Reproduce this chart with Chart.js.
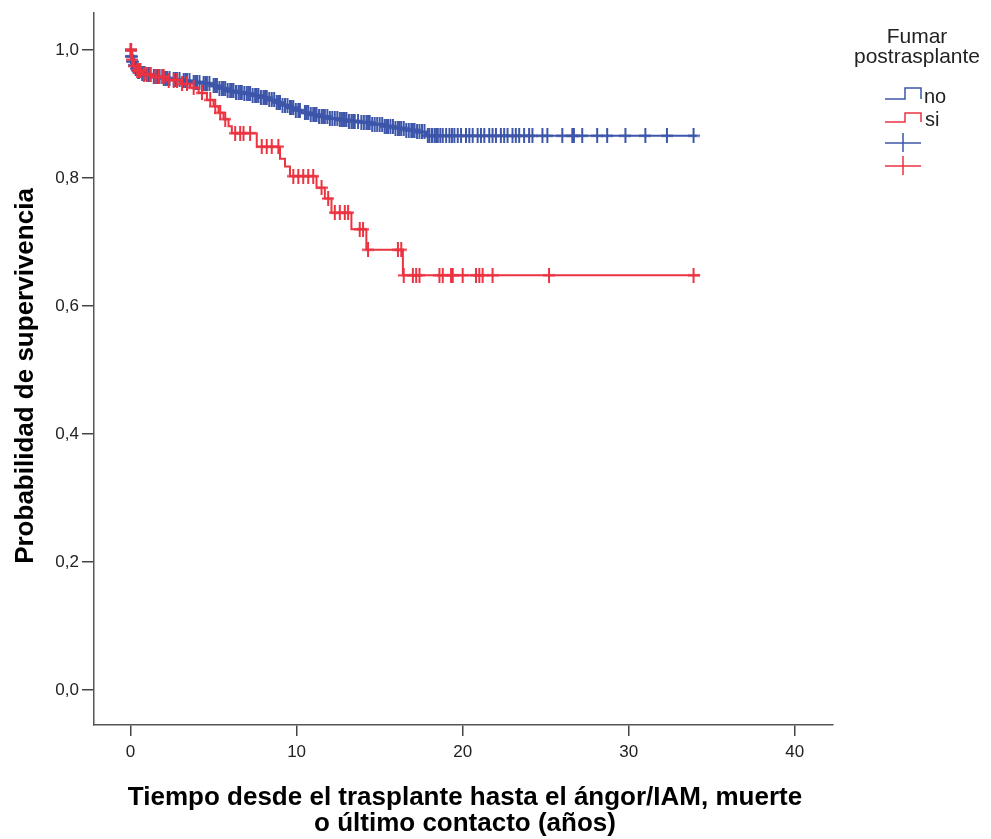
<!DOCTYPE html>
<html>
<head>
<meta charset="utf-8">
<script src="https://cdn.jsdelivr.net/npm/chart.js@4.4.1/dist/chart.umd.min.js"></script>
<style>
  html, body { margin: 0; padding: 0; background: #fff; }
  canvas { display: block; }
</style>
</head>
<body>
<canvas id="myChart" width="991" height="839" style="width:991px;height:839px"></canvas>
<script>
// data block: Kaplan-Meier steps (time in years, survival after the step)
const noTimes = [0, 0.03, 0.08, 0.15, 0.25, 0.4, 0.6, 0.9, 1.3, 1.8, 2.4, 3.0, 3.6, 4.2, 4.8, 5.3, 5.8, 6.3, 6.8, 7.3, 7.8, 8.3, 8.7, 9.1, 9.5, 9.9, 10.3, 10.8, 11.3, 11.9, 12.5, 13.1, 13.8, 14.5, 15.2, 15.9, 16.6, 17.2, 17.8];
const noSurv = [1.0, 0.99, 0.982, 0.976, 0.971, 0.967, 0.964, 0.961, 0.958, 0.956, 0.954, 0.952, 0.950, 0.948, 0.944, 0.940, 0.936, 0.934, 0.932, 0.929, 0.926, 0.922, 0.918, 0.914, 0.910, 0.906, 0.902, 0.899, 0.896, 0.893, 0.891, 0.889, 0.887, 0.884, 0.881, 0.878, 0.875, 0.872, 0.866];
const noEnd = 34.1;
const noCensored = [0.01, 0.02, 0.04, 0.05, 0.07, 0.1, 0.13, 0.18, 0.22, 0.3, 0.36, 0.45, 0.52, 0.7, 0.78, 0.85, 0.97, 1.1, 1.2, 1.4, 1.5, 1.6, 1.75, 2.0, 2.1, 2.2, 2.35, 2.6, 2.7, 2.8, 2.95, 3.2, 3.3, 3.4, 3.55, 3.8, 3.9, 4.0, 4.15, 4.4, 4.5, 4.6, 4.75, 5.0, 5.1, 5.2, 5.35, 5.5, 5.6, 5.7, 5.85, 6.0, 6.1, 6.2, 6.35, 6.5, 6.6, 6.7, 6.85, 7.0, 7.1, 7.2, 7.35, 7.5, 7.6, 7.7, 7.85, 8.0, 8.1, 8.2, 8.35, 8.5, 8.65, 8.8, 8.9, 9.0, 9.15, 9.3, 9.45, 9.6, 9.7, 9.8, 9.95, 10.1, 10.2, 10.5, 10.6, 10.7, 10.85, 11.0, 11.1, 11.2, 11.35, 11.5, 11.6, 11.7, 11.85, 12.0, 12.15, 12.3, 12.45, 12.6, 12.7, 12.8, 12.9, 13.0, 13.15, 13.3, 13.4, 13.5, 13.7, 13.9, 14.05, 14.2, 14.3, 14.4, 14.55, 14.7, 14.85, 15.0, 15.15, 15.3, 15.4, 15.5, 15.65, 15.8, 15.95, 16.1, 16.2, 16.3, 16.45, 16.6, 16.75, 16.9, 17.0, 17.1, 17.25, 17.4, 17.55, 17.7, 17.9, 18.0, 18.15, 18.3, 18.4, 18.5, 18.65, 18.8, 19.0, 19.2, 19.35, 19.5, 19.7, 19.9, 20.2, 20.4, 20.6, 20.9, 21.1, 21.3, 21.6, 21.8, 22.0, 22.3, 22.5, 22.7, 23.0, 23.2, 23.4, 23.7, 24.0, 24.2, 24.8, 25.1, 26.0, 26.6, 26.7, 27.2, 28.1, 28.7, 29.8, 31.0, 32.3, 33.9];

const siTimes = [0, 0.08, 0.15, 0.3, 0.7, 1.3, 2.2, 3.0, 3.6, 4.1, 4.6, 5.0, 5.3, 5.6, 5.9, 6.1, 7.6, 9.0, 9.3, 9.6, 11.2, 11.7, 12.1, 13.3, 14.2, 16.4];
const siSurv = [1.0, 0.985, 0.975, 0.968, 0.962, 0.958, 0.953, 0.947, 0.941, 0.933, 0.922, 0.912, 0.902, 0.892, 0.881, 0.870, 0.849, 0.830, 0.818, 0.803, 0.785, 0.768, 0.746, 0.720, 0.688, 0.648];
const siEnd = 34.3;
const siCensored = [0.01, 0.02, 0.04, 0.1, 0.2, 0.4, 0.5, 0.6, 0.8, 1.0, 1.2, 1.5, 1.7, 1.9, 2.0, 2.3, 2.6, 2.8, 3.1, 3.4, 3.8, 4.3, 4.8, 5.1, 5.4, 5.7, 6.3, 6.6, 6.8, 7.2, 7.9, 8.2, 8.5, 8.9, 9.8, 10.1, 10.4, 10.7, 11.0, 11.5, 11.9, 12.3, 12.6, 12.9, 13.1, 13.8, 14.0, 14.3, 16.1, 16.3, 16.45, 17.0, 17.2, 17.4, 18.6, 18.8, 19.3, 19.4, 20.0, 20.8, 21.0, 21.2, 21.8, 25.2, 33.9];

const xTickVals = [0, 10, 20, 30, 40];
const yTickVals = [0, 0.2, 0.4, 0.6, 0.8, 1.0];

const blue = "#3d56aa";
const red = "#ec3340";

// helpers
function curve(times, surv, end) {
  const pts = times.map((t, i) => ({ x: t, y: surv[i] }));
  pts.push({ x: end, y: surv[surv.length - 1] });
  return pts;
}
function survAt(times, surv, t) {
  let s = surv[0];
  for (let i = 0; i < times.length; i++) if (times[i] <= t) s = surv[i];
  return s;
}
function censorPoints(cens, times, surv) {
  return cens.map(t => ({ x: t, y: survAt(times, surv, t) }));
}
function crossImage(color, w, h) {
  const c = document.createElement("canvas");
  c.width = w; c.height = h;
  const g = c.getContext("2d");
  g.strokeStyle = color;
  g.lineWidth = 2;
  g.beginPath();
  g.moveTo(w / 2, 0); g.lineTo(w / 2, h);
  g.moveTo(0, h / 2); g.lineTo(w, h / 2);
  g.stroke();
  return c;
}

// custom titles + legend
const extras = {
  id: "extras",
  afterDraw(chart) {
    const c = chart.ctx;
    c.save();
    c.fillStyle = "#000";
    c.font = "bold 26px 'Liberation Sans', Arial, sans-serif";
    c.textAlign = "center";
    c.textBaseline = "alphabetic";
    c.fillText("Tiempo desde el trasplante hasta el ángor/IAM, muerte", 465, 805);
    c.fillText("o último contacto (años)", 465, 831);
    c.save();
    c.translate(33, 376);
    c.rotate(-Math.PI / 2);
    c.fillText("Probabilidad de supervivencia", 0, 0);
    c.restore();

    // legend
    c.font = "21px 'Liberation Sans', Arial, sans-serif";
    c.fillStyle = "#222";
    c.fillText("Fumar", 917, 43);
    c.fillText("postrasplante", 917, 63);
    c.lineWidth = 1.5;
    const steps = [[blue, 99, 88], [red, 122, 113]];
    steps.forEach(([col, lo, hi]) => {
      c.strokeStyle = col;
      c.beginPath();
      c.moveTo(885, lo); c.lineTo(905, lo); c.lineTo(905, hi);
      c.lineTo(921, hi); c.lineTo(921, lo);
      c.stroke();
    });
    c.font = "20px 'Liberation Sans', Arial, sans-serif";
    c.textAlign = "left";
    c.fillText("no", 924, 103);
    c.fillText("si", 925, 126);
    [[blue, 143], [red, 166]].forEach(([col, y]) => {
      c.strokeStyle = col;
      c.beginPath();
      c.moveTo(885, y); c.lineTo(921, y);
      c.moveTo(903, y - 10); c.lineTo(903, y + 9);
      c.stroke();
    });
    c.restore();
  }
};

// config block
const config = {
  type: "scatter",
  data: {
    datasets: [
      {
        label: "si censurado",
        data: censorPoints(siCensored, siTimes, siSurv),
        pointStyle: crossImage(red, 12, 15),
        showLine: false,
      },
      {
        label: "si",
        data: curve(siTimes, siSurv, siEnd),
        showLine: true,
        stepped: true,
        borderColor: red,
        borderWidth: 2,
        pointRadius: 0,
      },
      {
        label: "no censurado",
        data: censorPoints(noCensored, noTimes, noSurv),
        pointStyle: crossImage(blue, 12, 15),
        showLine: false,
      },
      {
        label: "no",
        data: curve(noTimes, noSurv, noEnd),
        showLine: true,
        stepped: true,
        borderColor: blue,
        borderWidth: 2,
        pointRadius: 0,
      },
    ],
  },
  options: {
    responsive: false,
    animation: false,
    layout: { padding: { top: 9, right: 158, left: 0, bottom: 0 } },
    plugins: { legend: { display: false }, tooltip: { enabled: false } },
    scales: {
      x: {
        type: "linear",
        min: -2.2,
        max: 42.3,
        afterBuildTicks: s => { s.ticks = xTickVals.map(v => ({ value: v })); },
        afterFit: s => { s.height = 114; },
        grid: { drawOnChartArea: false, drawTicks: true, tickLength: 11, color: "#444", lineWidth: 1.5 },
        border: { display: true, color: "#555", width: 1.5 },
        ticks: { color: "#222", padding: 6, font: { size: 17, family: "'Liberation Sans', Arial, sans-serif" } },
      },
      y: {
        type: "linear",
        min: -0.0543,
        max: 1.0575,
        afterBuildTicks: s => { s.ticks = yTickVals.map(v => ({ value: v })); },
        afterFit: s => { s.width = 94; },
        grid: { drawOnChartArea: false, drawTicks: true, tickLength: 12, color: "#444", lineWidth: 1.5 },
        border: { display: true, color: "#555", width: 1.5 },
        ticks: {
          color: "#222",
          padding: 3,
          font: { size: 17, family: "'Liberation Sans', Arial, sans-serif" },
          callback: v => v.toFixed(1).replace(".", ","),
        },
      },
    },
  },
  plugins: [extras],
};

// render init block
const ctx = document.getElementById("myChart");
const myChart = new Chart(ctx, config);
</script>
</body>
</html>
